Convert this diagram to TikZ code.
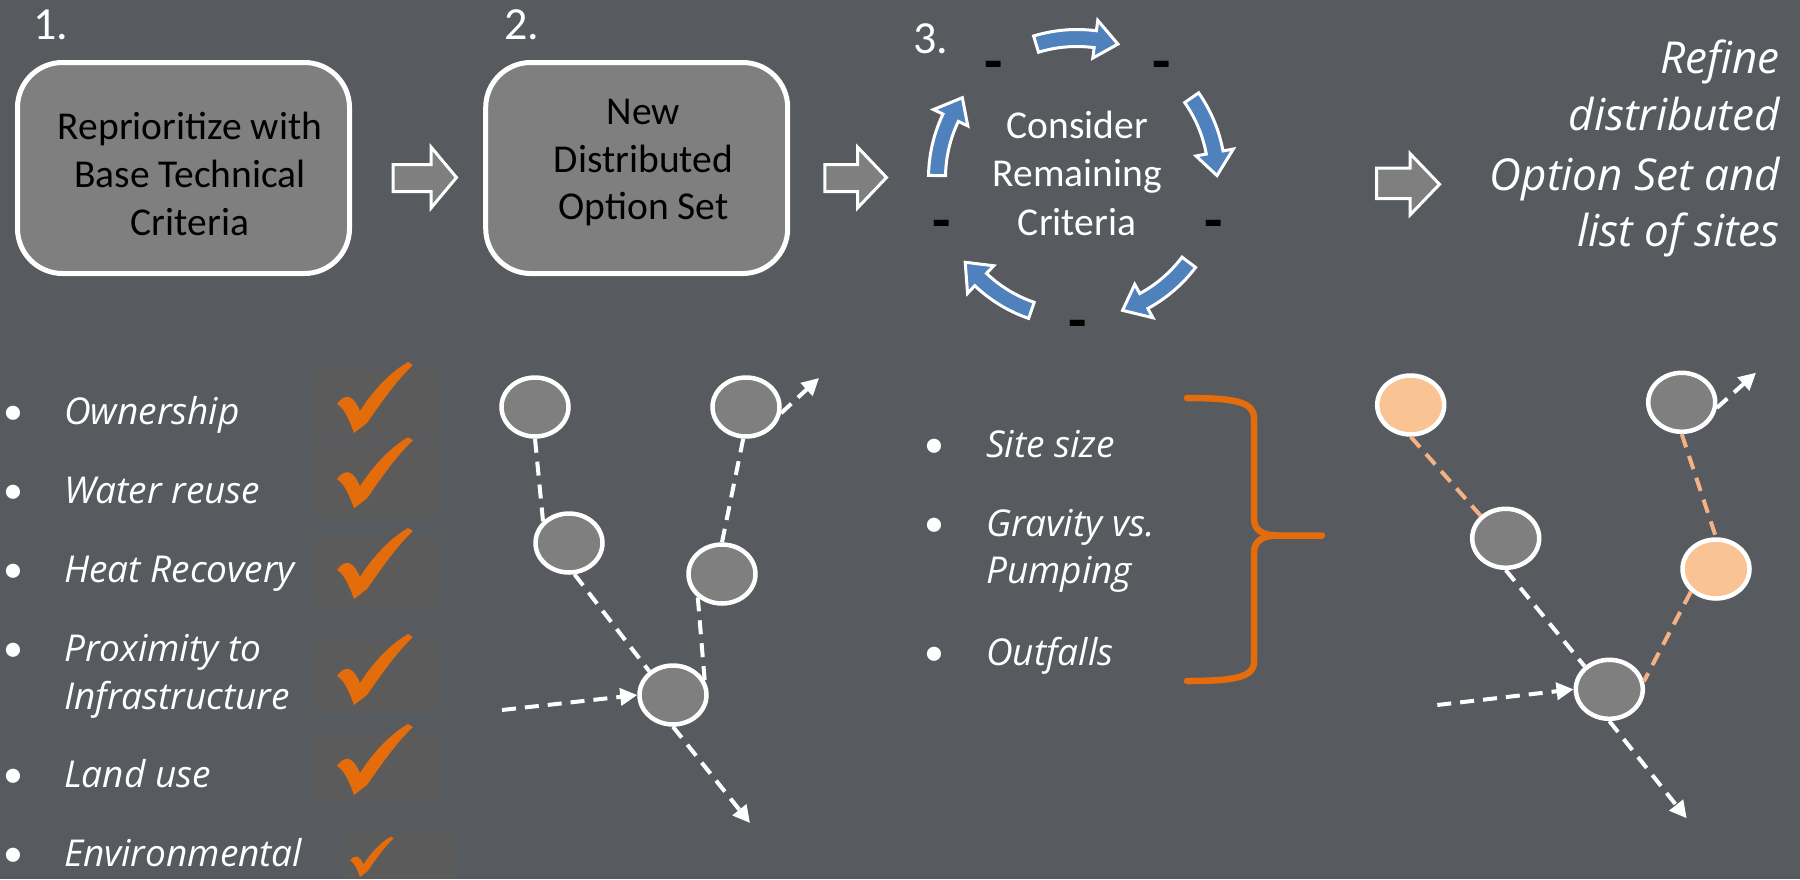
\documentclass[tikz,border=0pt]{standalone}
\usepackage{fontspec}
\setmainfont{Carlito}
\newfontfamily\opensans{Open Sans}
\usetikzlibrary{arrows.meta,shapes.geometric}
\definecolor{bg}{HTML}{575A5E}
\definecolor{boxgray}{HTML}{7F7F7F}
\definecolor{chkbg}{HTML}{5B5B5B}
\definecolor{chkorange}{HTML}{E46C0A}
\definecolor{cycblue}{HTML}{4F81BD}
\definecolor{peach}{HTML}{F9C393}
\definecolor{peachline}{HTML}{F4B183}
\tikzset{
  chk/.pic={\fill[chkorange] (0,0) .. controls (-5,-14) and (-10,-25) .. (-17,-29)
     .. controls (-14,-34) and (-9,-37) .. (-5,-36)
     .. controls (0,-34) and (3,-29) .. (6,-22)
     .. controls (20,-44) and (38,-62) .. (54,-71) -- (59,-68)
     .. controls (42,-52) and (27,-30) .. (13,-10) -- cycle;}
}
\begin{document}
\begin{tikzpicture}[x=1pt,y=-1pt,
  stepbox/.style={draw=white,line width=5pt,fill=boxgray,rounded corners=45pt,inner sep=0pt},
  boxtxt/.style={anchor=base,inner sep=0pt,font=\fontsize{39.5}{46}\selectfont,text=black},
  cyctxt/.style={anchor=base,inner sep=0pt,font=\fontsize{39.5}{46}\selectfont,text=white},
  numtxt/.style={anchor=base west,inner sep=0pt,font=\fontsize{46}{50}\selectfont,text=white},
  listtxt/.style={anchor=base west,inner sep=0pt,font=\opensans\itshape\fontsize{37}{44}\selectfont,text=white},
  bul/.style={anchor=base,inner sep=0pt,font=\fontsize{40}{48}\selectfont,text=white},
  reftxt/.style={anchor=base east,inner sep=0pt,font=\opensans\itshape\fontsize{44}{50}\selectfont,text=white},
  dashtxt/.style={anchor=base,inner sep=0pt,font=\fontsize{60}{60}\selectfont\bfseries,text=black},
  blockarrow/.style={fill=boxgray,draw=white,line width=3pt,line join=miter},
  cycarrow/.style={fill=cycblue,draw=white,line width=3pt,line join=miter},
  site/.style={ellipse,draw=white,line width=4.5pt,fill=boxgray,minimum width=67pt,minimum height=59pt,inner sep=0pt},
  siteor/.style={site,fill=peach},
  pipe/.style={draw=white,line width=4pt,dash pattern=on 14pt off 9pt},
  pipeor/.style={pipe,draw=peachline},
  flow/.style={pipe,-{Triangle[length=17pt,width=17pt]}},
  chkbox/.style={fill=chkbg},
  brace/.style={draw=chkorange,line width=6.5pt,line cap=round}
]
\useasboundingbox[fill=bg] (0,0) rectangle (1800,879);

% ---------- step 1 and 2 boxes ----------
\node[numtxt] (n1) at (33,39) {1.};
\node[numtxt] (n2) at (504,39) {2.};
\node[numtxt] (n3) at (913,53) {3.};

\node[stepbox,minimum width=332pt,minimum height=211pt] (box1) at (183.5,168) {};
\node[boxtxt] (b1l1) at (190,139) {Reprioritize with};
\node[boxtxt] (b1l2) at (190,187) {Base Technical};
\node[boxtxt] (b1l3) at (190,235) {Criteria};

\node[stepbox,minimum width=302pt,minimum height=211pt] (box2) at (636.7,168) {};
\node[boxtxt] (b2l1) at (643.5,124) {New};
\node[boxtxt] (b2l2) at (643.5,172) {Distributed};
\node[boxtxt] (b2l3) at (643.5,219.5) {Option Set};

% block arrows
\draw[blockarrow] (393.2,164.5) -- (431,164.5) -- (431,147) -- (456.5,177.5) -- (431,208) -- (431,191.5) -- (393.2,191.5) -- cycle;
\draw[blockarrow] (824.8,164.5) -- (857.5,164.5) -- (857.5,147) -- (886.5,177.5) -- (857.5,208) -- (857.5,191.5) -- (824.8,191.5) -- cycle;
\draw[blockarrow] (1376.5,168.2) -- (1410,168.2) -- (1410,153.5) -- (1439.5,184.3) -- (1410,215) -- (1410,198.5) -- (1376.5,198.5) -- cycle;

% ---------- cycle ----------
\begin{scope}[shift={(1077,178)}]
\foreach \a in {-90,-18,54,126,198} {
  \draw[cycarrow] (\a-17:148.5) arc[start angle=\a-17, end angle=\a+7.5, radius=148.5]
     -- (\a+7.5:159) -- (\a+17:140) -- (\a+7.5:121) -- (\a+7.5:131.5)
     arc[start angle=\a+7.5, end angle=\a-17, radius=131.5] -- cycle;
}
\end{scope}
\node[cyctxt] (c1) at (1077.5,138.3) {Consider};
\node[cyctxt] (c2) at (1077.5,186.7) {Remaining};
\node[cyctxt] (c3) at (1077,235) {Criteria};
\node[dashtxt] (d1) at (993.3,81) {-};
\node[dashtxt] (d2) at (1161.7,81) {-};
\node[dashtxt] (d3) at (941.7,240.5) {-};
\node[dashtxt] (d4) at (1213.3,240.5) {-};
\node[dashtxt] (d5) at (1077.3,340) {-};

% ---------- refine text ----------
\node[reftxt] (r1) at (1780,73.3) {Refine};
\node[reftxt] (r2) at (1780,130) {distributed};
\node[reftxt] (r3) at (1780,190) {Option Set and};
\node[reftxt] (r4) at (1780,246) {list of sites};

% ---------- left criteria list ----------
\fill[chkbox] (311.7,371) rectangle (440,441);
\fill[chkbox] (311.7,446) rectangle (440,516);
\fill[chkbox] (311.7,537) rectangle (440,607);
\fill[chkbox] (311.7,643) rectangle (440,713);
\fill[chkbox] (311.7,733) rectangle (440,803);
\fill[chkbox] (345,833) rectangle (455,879);
\pic at (354,433) {chk};
\pic at (354,508.3) {chk};
\pic at (354,599) {chk};
\pic at (354,705) {chk};
\pic at (354,795) {chk};
\pic[scale=0.57] at (360,877) {chk};

\node[bul] (lb1) at (13.3,424) {•};
\node[bul] (lb2) at (13.3,503.3) {•};
\node[bul] (lb3) at (13.3,582.3) {•};
\node[bul] (lb4) at (13.3,661.7) {•};
\node[bul] (lb5) at (13.3,787.7) {•};
\node[bul] (lb6) at (13.3,866) {•};
\node[listtxt] (l1) at (64,424) {Ownership};
\node[listtxt] (l2) at (64,503.3) {Water reuse};
\node[listtxt] (l3) at (64,582.3) {Heat Recovery};
\node[listtxt] (l4) at (64,661.7) {Proximity to};
\node[listtxt] (l4b) at (64,709.3) {Infrastructure};
\node[listtxt] (l5) at (64,787.7) {Land use};
\node[listtxt] (l6) at (64,866) {Environmental};

% ---------- middle list and brace ----------
\node[bul] (mb1) at (934.3,457) {•};
\node[bul] (mb2) at (934.3,536.7) {•};
\node[bul] (mb3) at (934.3,665) {•};
\node[listtxt] (m1) at (986,457) {Site size};
\node[listtxt] (m2) at (986,536.7) {Gravity vs.};
\node[listtxt] (m2b) at (986,583) {Pumping};
\node[listtxt] (m3) at (986,665) {Outfalls};
\draw[brace] (1187,398) .. controls (1235,398) and (1254,402) .. (1254,418) -- (1254,518)
   .. controls (1254,530) and (1262,535.5) .. (1278,535.5) -- (1322,535.5);
\draw[brace] (1278,535.5) .. controls (1262,535.5) and (1254,541) .. (1254,553) -- (1254,662)
   .. controls (1254,677) and (1235,681) .. (1187,681);

% ---------- left network ----------
\node[site] (a1) at (535,407) {};
\node[site] (bb1) at (746,407) {};
\node[site] (cc1) at (569,543) {};
\node[site] (dd1) at (722,574) {};
\node[site] (e1) at (673,695) {};
\coordinate (in1) at (502,710);
\coordinate (out1) at (750,823);
\coordinate (up1) at (819,378);
\draw[pipe] (a1.south) -- (cc1.140);
\draw[pipe] (bb1.265) -- (dd1.north);
\draw[pipe] (cc1.280) -- (e1.135);
\draw[pipe] (dd1.224) -- (e1.25);
\draw[flow] (in1) -- (e1.west);
\draw[flow] (e1.south) -- (out1);
\draw[flow] (bb1.-10) -- (up1);

% ---------- right network ----------
\node[siteor] (a2) at (1410.7,405) {};
\node[site] (bb2) at (1681.7,402.3) {};
\node[site] (cc2) at (1505.7,538.3) {};
\node[siteor] (dd2) at (1716,569) {};
\node[site] (e2) at (1609.3,689.3) {};
\coordinate (in2) at (1437.3,705);
\coordinate (out2) at (1686.7,818.3);
\coordinate (up2) at (1756,372.7);
\draw[pipeor] (a2.south) -- (cc2.138);
\draw[pipeor] (bb2.south) -- (dd2.north);
\draw[pipe] (cc2.south) -- (e2.137);
\draw[pipeor] (dd2.222) -- (e2.13);
\draw[flow] (in2) -- (e2.west);
\draw[flow] (e2.south) -- (out2);
\draw[flow] (bb2.-9) -- (up2);
\end{tikzpicture}
\end{document}
